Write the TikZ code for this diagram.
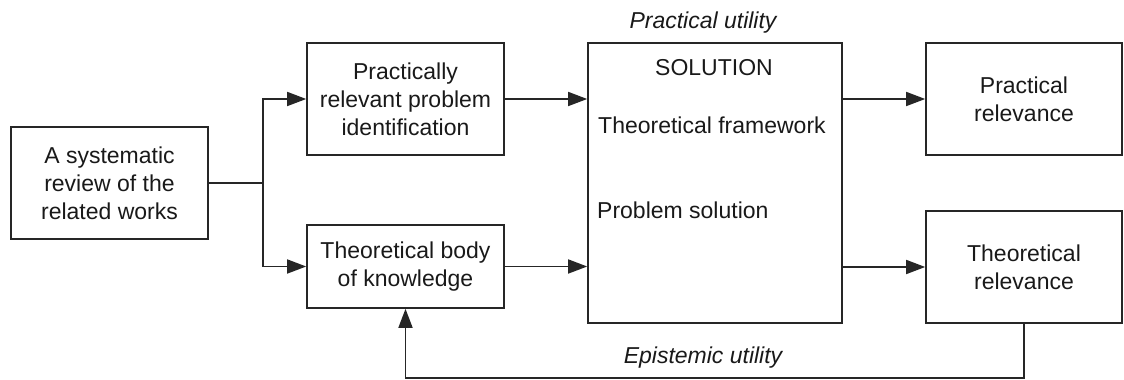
\documentclass[tikz,border=0pt]{standalone}
\usepackage{fontspec}
\setmainfont{Liberation Sans}
\usetikzlibrary{arrows.meta}
\begin{document}
\begin{tikzpicture}[x=1pt,y=1pt,
  box/.style={draw=black!85, line width=1.6pt, align=center, inner sep=0pt,
    font=\fontsize{23}{28}\selectfont, text=black!90},
  conn/.style={draw=black!85, line width=1.6pt},
  arr/.style={conn, -{Triangle[length=19pt,width=14pt]}},
  txt/.style={font=\fontsize{23}{28}\selectfont, text=black!90, inner sep=0pt},
  lbl/.style={font=\fontsize{23}{28}\selectfont\itshape, text=black!90, inner sep=0pt}]
\useasboundingbox (0,0) rectangle (1124,380);
\node[box, minimum width=197pt, minimum height=112pt] (rev) at (109.5,197) {A systematic\\review of the\\related works};
\node[box, minimum width=197pt, minimum height=112pt] (prob) at (405.5,281) {Practically\\relevant problem\\identification};
\node[box, minimum width=197pt, minimum height=83pt] (body) at (405.5,113.5) {Theoretical body\\of knowledge};
\node[box, minimum width=254pt, minimum height=280pt] (sol) at (715,197) {};
\node[box, minimum width=196pt, minimum height=112pt] (prel) at (1024,281) {Practical\\relevance};
\node[box, minimum width=196pt, minimum height=112pt] (trel) at (1024,113) {Theoretical\\relevance};
\node[txt] (soltitle) at (714,312) {SOLUTION};
\node[txt, anchor=west] (fw) at (598,255) {Theoretical framework};
\node[txt, anchor=west] (ps) at (597,170) {Problem solution};
\node[lbl] (pu) at (703,357) {Practical utility};
\node[lbl] (eu) at (703,22) {Epistemic utility};
\coordinate (br) at (263,197);
\coordinate (fb) at (1024,2);
\draw[conn] (rev.east) -- (br);
\draw[arr] (br) |- (prob.west);
\draw[arr] (br) |- (body.west);
\draw[arr] (prob.east) -- (sol.west |- prob.east);
\draw[arr] (body.east) -- (sol.west |- body.east);
\draw[arr] (sol.east |- prel.west) -- (prel.west);
\draw[arr] (sol.east |- trel.west) -- (trel.west);
\draw[arr] (trel.south) -- (fb) -| (body.south);
\end{tikzpicture}
\end{document}
